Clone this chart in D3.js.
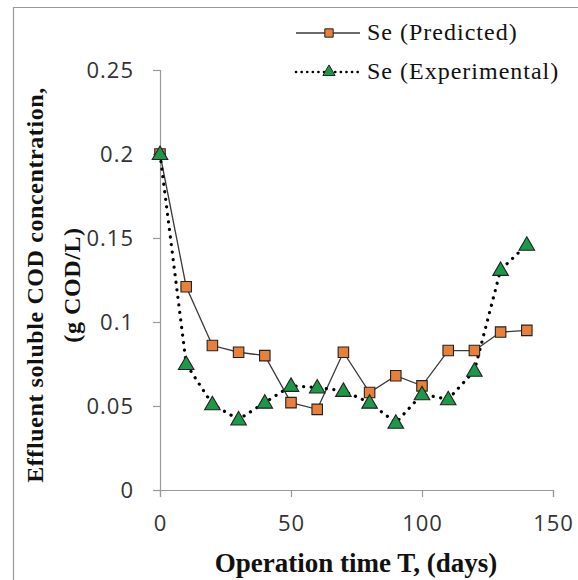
<!DOCTYPE html>
<html>
<head>
<script src="https://d3js.org/d3.v7.min.js"></script>
<style>
  body { margin: 0; background: #fff; }
</style>
</head>
<body>
<svg width="578" height="580"></svg>
<script>
// operation time (days)
const days = [0, 10, 20, 30, 40, 50, 60, 70, 80, 90, 100, 110, 120, 130, 140];
// Se predicted / experimental (g COD/L)
const predicted = [0.2, 0.121, 0.086, 0.082, 0.080, 0.052, 0.048, 0.082, 0.058, 0.068, 0.062, 0.083, 0.083, 0.094, 0.095];
const experimental = [0.2, 0.075, 0.051, 0.042, 0.052, 0.062, 0.061, 0.059, 0.052, 0.040, 0.057, 0.054, 0.071, 0.131, 0.146];
const xTicks = [0, 50, 100, 150];
const yTicks = [0, 0.05, 0.1, 0.15, 0.2, 0.25];
const seriesNames = ['Se (Predicted)', 'Se (Experimental)'];

const svg = d3.select('svg');
const orange = '#e8803a', green = '#1a9a48';

// frame (the picture is cropped, only top and left edges show)
svg.append('path')
  .attr('d', 'M13.5,580 V7.5 H578')
  .attr('fill', 'none').attr('stroke', '#999').attr('stroke-width', 1.2);

const x = d3.scaleLinear().domain([0, 150]).range([160, 553]);
const y = d3.scaleLinear().domain([0, 0.25]).range([490, 70]);

const tickFont = '"Open Sans", sans-serif';

// y axis
const gy = svg.append('g').attr('transform', 'translate(160,0)')
  .call(d3.axisLeft(y).tickValues(yTicks).tickSize(7).tickPadding(19)
    .tickFormat(d => d === 0 ? '0' : String(+d.toFixed(2))));
// x axis
const gx = svg.append('g').attr('transform', 'translate(0,490)')
  .call(d3.axisBottom(x).tickValues(xTicks).tickSize(7).tickPadding(13));

[gx, gy].forEach(g => {
  g.select('.domain').attr('stroke', '#999').attr('stroke-width', 1.2);
  g.selectAll('.tick line').attr('stroke', '#999').attr('stroke-width', 1.2);
  g.selectAll('.tick text').attr('fill', '#333')
    .style('font-family', tickFont).style('font-size', '22px')
    .style('letter-spacing', '1px');
});
gx.selectAll('.tick text').attr('dy', '0.95em');
gy.selectAll('.tick text').attr('dy', '0.36em');

// axis titles
const titleFont = '"Liberation Serif", "Times New Roman", serif';
svg.append('text')
  .attr('x', 356).attr('y', 572)
  .attr('text-anchor', 'middle')
  .style('font-family', titleFont).style('font-weight', 'bold').style('font-size', '27px')
  .attr('fill', '#111')
  .text('Operation time T, (days)');

const yTitle = svg.append('text')
  .attr('transform', 'translate(0,285) rotate(-90)')
  .attr('text-anchor', 'middle')
  .style('font-family', titleFont).style('font-weight', 'bold').style('font-size', '24px')
  .style('letter-spacing', '0.6px')
  .attr('fill', '#111');
yTitle.append('tspan').attr('x', 0).attr('y', 43).text('Effluent soluble COD concentration,');
yTitle.append('tspan').attr('x', 0).attr('y', 80).text('(g COD/L)');

// lines
const line = d3.line().x((d, i) => x(days[i])).y(d => y(d));
svg.append('path').datum(predicted)
  .attr('d', line).attr('fill', 'none')
  .attr('stroke', '#3a3a3a').attr('stroke-width', 1.3);
svg.append('path').datum(experimental)
  .attr('d', line).attr('fill', 'none')
  .attr('stroke', '#000').attr('stroke-width', 3.2)
  .attr('stroke-linecap', 'round').attr('stroke-dasharray', '0.1 7.5');

const sq = d3.symbol().type(d3.symbolSquare).size(110);
const tri = d3.symbol().type(d3.symbolTriangle).size(105);

svg.append('g').selectAll('path').data(predicted).join('path')
  .attr('transform', (d, i) => `translate(${x(days[i])},${y(d)})`)
  .attr('d', sq).attr('fill', orange).attr('stroke', '#222').attr('stroke-width', 1.1);
svg.append('g').selectAll('path').data(experimental).join('path')
  .attr('transform', (d, i) => `translate(${x(days[i])},${y(d) + 1})`)
  .attr('d', tri).attr('fill', green).attr('stroke', '#222').attr('stroke-width', 1.1);

// legend
const legend = svg.append('g');
const rows = legend.selectAll('g').data(seriesNames).join('g')
  .attr('transform', (d, i) => `translate(296,${33 + i * 39})`);
rows.append('line')
  .attr('x1', 0).attr('x2', 64).attr('y1', 0).attr('y2', 0)
  .attr('stroke', (d, i) => i === 0 ? '#3a3a3a' : '#000')
  .attr('stroke-width', (d, i) => i === 0 ? 1.3 : 2.6)
  .attr('stroke-linecap', (d, i) => i === 0 ? 'butt' : 'round')
  .attr('stroke-dasharray', (d, i) => i === 0 ? null : '0.1 5.5');
rows.append('path')
  .attr('transform', 'translate(33,0)')
  .attr('d', (d, i) => i === 0 ? d3.symbol().type(d3.symbolSquare).size(70)() : d3.symbol().type(d3.symbolTriangle).size(65)())
  .attr('fill', (d, i) => i === 0 ? orange : green)
  .attr('stroke', '#222').attr('stroke-width', 1);
rows.append('text')
  .attr('x', 71).attr('y', 7)
  .style('font-family', titleFont).style('font-size', '24px')
  .style('letter-spacing', '1px')
  .attr('fill', '#111')
  .text(d => d);
</script>
</body>
</html>
